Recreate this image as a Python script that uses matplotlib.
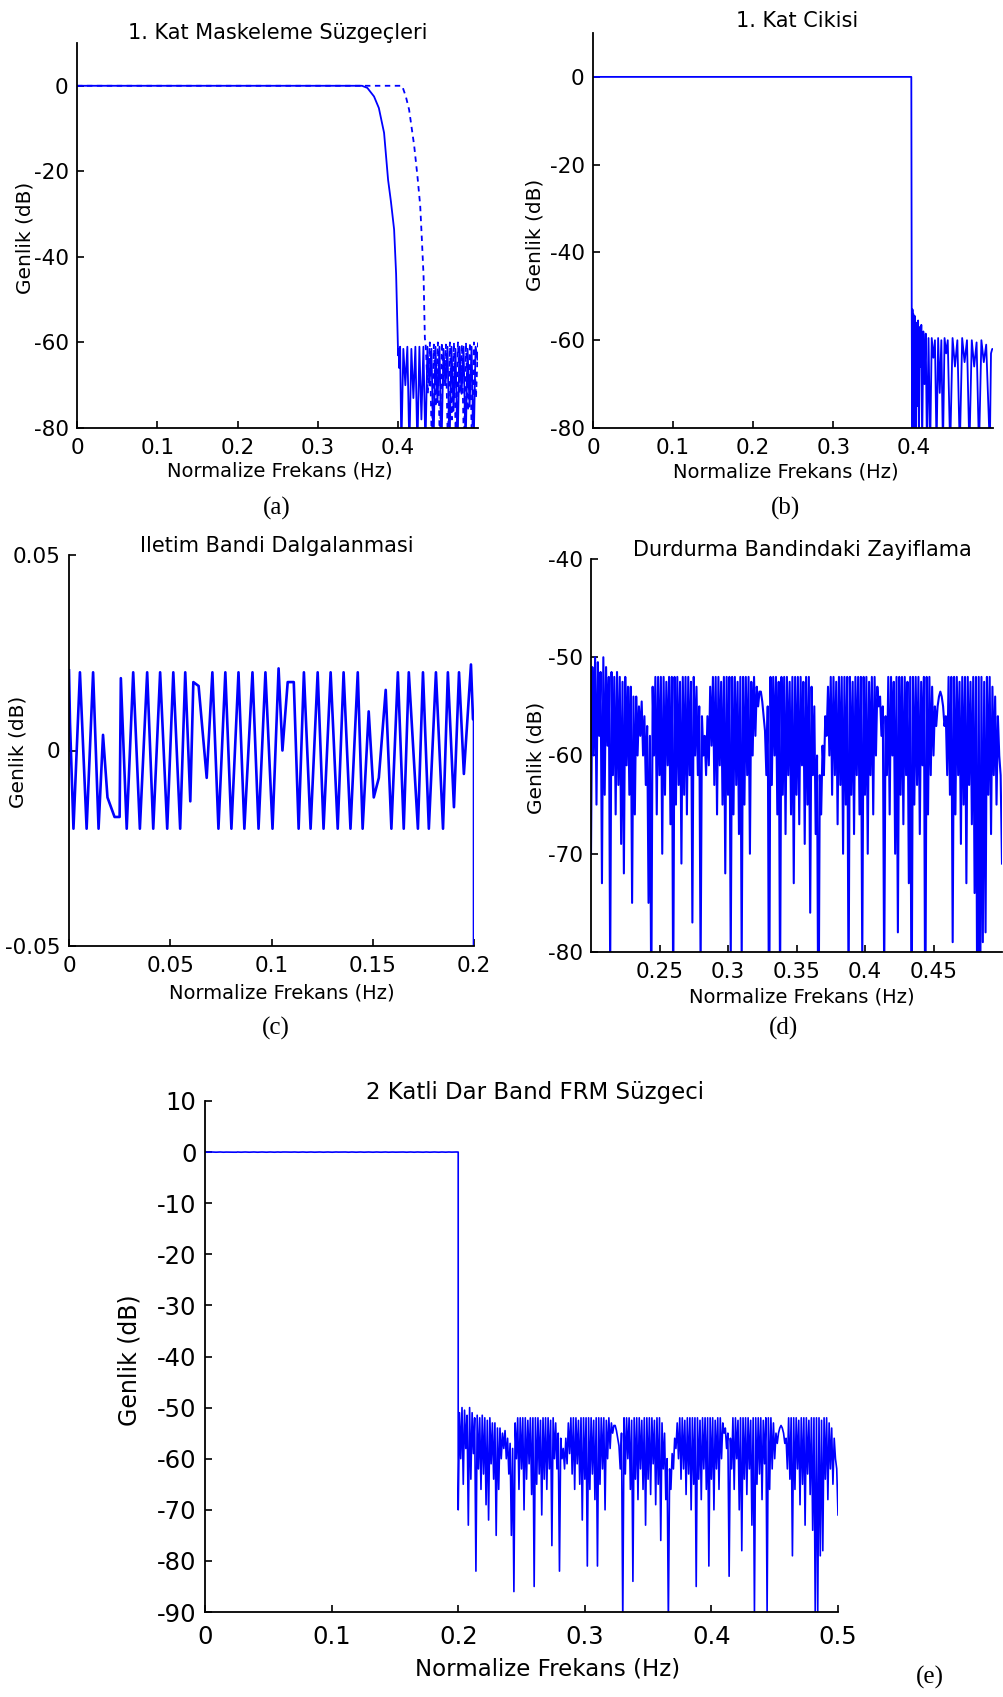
import numpy as np
import matplotlib
matplotlib.use("Agg")
import matplotlib.pyplot as plt

W, H = 1004, 1697
BLUE = "#0000ff"

# ---- panel (a): first stage masking filters ----
a_solid_f = [0, 0.355, 0.3617, 0.370, 0.376, 0.3825, 0.3875, 0.391, 0.395, 0.3975, 0.400,
             0.4005, 0.4015, 0.4025, 0.404, 0.4065, 0.409, 0.4115, 0.414, 0.4165, 0.419,
             0.4215, 0.424, 0.4265, 0.429, 0.4315, 0.434, 0.4365, 0.439, 0.4415, 0.444,
             0.4465, 0.449, 0.4515, 0.454, 0.4565, 0.459, 0.4615, 0.464, 0.4665, 0.469,
             0.4715, 0.474, 0.4765, 0.479, 0.4815, 0.484, 0.4865, 0.489, 0.4915, 0.494,
             0.4965, 0.499]
a_solid_db = [0, 0, -0.5, -2.5, -5.2, -11, -22, -27, -33.6, -44, -63,
              -61.5, -66, -61, -85, -61.5, -70, -61, -85, -61.5, -73,
              -61, -85, -61, -78, -61, -85, -61, -70, -61.5, -85,
              -61, -74, -61, -85, -61.5, -70, -61, -85, -61, -76,
              -61.5, -85, -61, -72, -61, -85, -61.5, -75, -61, -85,
              -61, -64]
a_dash_f = [0, 0.405, 0.4096, 0.4137, 0.420, 0.424, 0.4275, 0.4296, 0.4317, 0.4333,
            0.4345, 0.437, 0.4395, 0.442, 0.4445, 0.447, 0.4495, 0.452, 0.4545, 0.457,
            0.4595, 0.462, 0.4645, 0.467, 0.4695, 0.472, 0.4745, 0.477, 0.4795, 0.482,
            0.4845, 0.487, 0.4895, 0.492, 0.4945, 0.497, 0.4995]
a_dash_db = [0, 0, -2.5, -5.6, -14, -21, -28, -36, -44.5, -59,
             -61, -72, -60, -85, -60.5, -75, -60, -85, -60, -70,
             -60.5, -85, -60, -78, -60, -85, -60, -72, -60.5, -85,
             -60, -76, -60, -85, -60, -73, -60]

# ---- panel (b): first stage output ----
b_f = [0, 0.3975, 0.398, 0.3985, 0.399, 0.3995, 0.400, 0.4005, 0.401, 0.4015, 0.402,
       0.403, 0.404, 0.405, 0.406, 0.407, 0.408, 0.409, 0.410, 0.411, 0.4125,
       0.414, 0.4155, 0.417, 0.419, 0.421, 0.423, 0.425, 0.427, 0.429, 0.431,
       0.433, 0.435, 0.437, 0.439, 0.441, 0.443, 0.446, 0.449, 0.452, 0.455,
       0.458, 0.461, 0.464, 0.467, 0.470, 0.473, 0.476, 0.479, 0.482, 0.485,
       0.488, 0.491, 0.494, 0.4955, 0.497, 0.4985, 0.4995]
b_db = [0, 0, -52, -85, -53, -72, -54, -85, -55, -68, -54.5,
        -85, -56, -75, -55.5, -85, -57, -66, -56.5, -85, -58,
        -70, -58.5, -85, -59.5, -85, -59.5, -64, -60, -85, -59.5,
        -72, -60, -85, -59.5, -63, -60, -85, -59.5, -66, -60,
        -85, -59.5, -65, -60, -85, -60, -66, -60.5, -85, -60,
        -65, -61, -76.5, -85, -63, -62, -62]

# ---- panel (c): pass band ripple of the 2-stage filter ----
pass_f = [0.000, 0.0005, 0.0022, 0.0054, 0.0087, 0.0119, 0.0146, 0.0168, 0.0190, 0.0225,
          0.0250, 0.0256, 0.0285, 0.0317, 0.0350, 0.0386, 0.0416, 0.0450, 0.0485, 0.0515,
          0.0549, 0.0574, 0.0599, 0.0614, 0.0640, 0.0680, 0.0708, 0.0738, 0.0772, 0.0802,
          0.0837, 0.0866, 0.0906, 0.0936, 0.0970, 0.1005, 0.1035, 0.1054, 0.1080, 0.1110,
          0.1134, 0.1160, 0.1193, 0.1228, 0.1257, 0.1292, 0.1327, 0.1356, 0.1390, 0.1426,
          0.1450, 0.1480, 0.1505, 0.1530, 0.1564, 0.1592, 0.1624, 0.1653, 0.1678, 0.1723,
          0.1748, 0.1777, 0.1812, 0.1847, 0.1871, 0.1901, 0.1926, 0.1950, 0.1985, 0.1995,
          0.2000]
pass_db = [0.0205, 0.007, -0.020, 0.020, -0.020, 0.020, -0.020, 0.004, -0.012, -0.017,
           -0.017, 0.0185, -0.020, 0.020, -0.020, 0.020, -0.020, 0.020, -0.020, 0.020,
           -0.020, 0.020, -0.013, 0.0175, 0.0165, -0.007, 0.020, -0.020, 0.020, -0.020,
           0.020, -0.020, 0.020, -0.020, 0.020, -0.020, 0.021, 0.000, 0.0175, 0.0175,
           -0.020, 0.020, -0.020, 0.020, -0.020, 0.020, -0.020, 0.020, -0.020, 0.020,
           -0.020, 0.010, -0.012, -0.007, 0.0155, -0.020, 0.020, -0.020, 0.020, -0.020,
           0.020, -0.020, 0.020, -0.020, 0.020, -0.0145, 0.020, -0.006, 0.022, 0.008,
           0.008]

# ---- panels (d), (e): stop band of the 2-stage filter, 0.2 .. 0.5 step 0.001 ----
stop_db = [
    -70, -51, -60, -50, -65, -50.5, -58, -51.5, -73, -50,
    -64, -51, -59, -52, -82, -51.5, -62, -52, -66, -51.5,
    -63, -52, -69, -52.5, -72, -52, -61, -53, -64, -53,
    -75, -54, -66, -54, -60, -55, -58, -54.5, -60, -56,
    -63, -57, -75, -58, -86, -53, -60, -52, -66, -52,
    -62, -52, -70, -52, -64, -52.5, -61, -52, -67, -52,
    -85, -52, -65, -52, -63, -52.5, -71, -52, -64, -52,
    -66, -52, -62, -52.5, -77, -52, -60, -53, -62, -55,
    -82, -56, -60, -58, -62, -56, -61, -53, -59, -52,
    -63, -52, -66, -52, -61, -52.5, -65, -52, -72, -52,
    -64, -52, -81, -52, -66, -52, -63, -52.5, -68, -52,
    -81, -52, -65, -52, -62, -52, -70, -52.5, -60, -52,
    -58, -53, -55, -53.5, -53.5, -54.5, -56, -57.5, -62, -55,
    -92, -52, -63, -52, -60, -52, -66, -52.5, -84, -52,
    -64, -52, -68, -52, -62, -52.5, -66, -52, -73, -52,
    -64, -52, -67, -52, -61, -52.5, -69, -52, -65, -52,
    -76, -53, -62, -55, -68, -60, -92, -62, -66, -59,
    -62, -56, -58, -53, -60, -52, -64, -52, -62, -52.5,
    -67, -52, -63, -52, -70, -52, -65, -52, -85, -52,
    -64, -52.5, -68, -52, -62, -52, -66, -52, -81, -52,
    -64, -52, -70, -52.5, -62, -52, -66, -52, -60, -53,
    -55, -54, -58, -55, -83, -56, -62, -52, -66, -52,
    -60, -52.5, -70, -52, -78, -52, -64, -52, -67, -52,
    -62, -52.5, -73, -52, -90, -52, -65, -52, -63, -52,
    -68, -52.5, -61, -52, -90, -52, -66, -52, -62, -53,
    -60, -55, -57, -55, -54, -53.5, -54, -55, -57, -56,
    -62, -52, -64, -52, -79, -52, -66, -52, -62, -52.5,
    -69, -52, -65, -52, -73, -52, -63, -52.5, -67, -52,
    -74, -52, -90, -52, -90, -52, -79, -52.5, -78, -52,
    -64, -52, -68, -53, -62, -54, -65, -56, -60, -62,
    -71]
stop_f = np.round(np.linspace(0.2, 0.5, len(stop_db)), 4)

plt.rcParams['font.family'] = ['DejaVu Sans']


def rect(left, top, right, bottom):
    return [left / W, 1 - bottom / H, (right - left) / W, (bottom - top) / H]


def put(x, y, s, size, **kw):
    fig.text(x / W, 1 - y / H, s, fontsize=size, ha="center", va="center", **kw)


def style(ax, xt, xl, yt, yl, xlim, ylim, fs, xpad=7):
    ax.set_xlim(*xlim)
    ax.set_ylim(*ylim)
    ax.set_xticks(xt)
    ax.set_xticklabels(xl, fontsize=fs)
    ax.set_yticks(yt)
    ax.set_yticklabels(yl, fontsize=fs)
    for s in ["top", "right"]:
        ax.spines[s].set_visible(False)
    for s in ["left", "bottom"]:
        ax.spines[s].set_linewidth(1.3)
    ax.tick_params(direction="in", length=5, width=1.2, pad=6)
    ax.tick_params(axis="x", pad=xpad)
    ax.patch.set_alpha(0)


fig = plt.figure(figsize=(W / 100, H / 100), dpi=100)

FS = 15.5
TS = 15
LS = 14
YS = 14.5
serif = dict(family="Liberation Serif")

# (a)
ax = fig.add_axes(rect(77, 43, 478, 428))
ax.plot(a_solid_f, a_solid_db, color=BLUE, lw=1.3)
ax.plot(a_dash_f, a_dash_db, color=BLUE, lw=1.3, linestyle=(0, (3, 2.5)))
style(ax, [0, 0.1, 0.2, 0.3, 0.4], ["0", "0.1", "0.2", "0.3", "0.4"],
      [-80, -60, -40, -20, 0], ["-80", "-60", "-40", "-20", "0"], (0, 0.4995), (-80, 10), FS)
put(278, 33, "1. Kat Maskeleme Süzgeçleri", TS)
put(280, 471, "Normalize Frekans (Hz)", LS)
put(25, 238, "Genlik (dB)", YS, rotation=90)
put(277, 508, "(a)", 18, **serif)

# (b)
ax = fig.add_axes(rect(593, 33, 993, 428))
ax.plot(b_f, b_db, color=BLUE, lw=1.3)
style(ax, [0, 0.1, 0.2, 0.3, 0.4], ["0", "0.1", "0.2", "0.3", "0.4"],
      [-80, -60, -40, -20, 0], ["-80", "-60", "-40", "-20", "0"], (0, 0.4995), (-80, 10), FS)
put(797, 21, "1. Kat Cikisi", TS)
put(786, 472, "Normalize Frekans (Hz)", LS)
put(535, 235, "Genlik (dB)", YS, rotation=90)
put(786, 508, "(b)", 18, **serif)

# (c)
ax = fig.add_axes(rect(69, 555, 474, 946))
ax.plot(pass_f + [stop_f[0]], pass_db + [stop_db[0]], color=BLUE, lw=1.9)
style(ax, [0, 0.05, 0.1, 0.15, 0.2], ["0", "0.05", "0.1", "0.15", "0.2"],
      [-0.05, 0, 0.05], ["-0.05", "0", "0.05"], (0, 0.2), (-0.05, 0.05), FS)
put(277, 546, "Iletim Bandi Dalgalanmasi", TS)
put(282, 993, "Normalize Frekans (Hz)", LS)
put(18, 752, "Genlik (dB)", YS, rotation=90)
put(276, 1028, "(c)", 18, **serif)

# (d)
ax = fig.add_axes(rect(591, 559, 1002, 952))
ax.plot(stop_f, stop_db, color=BLUE, lw=1.5)
style(ax, [0.25, 0.3, 0.35, 0.4, 0.45], ["0.25", "0.3", "0.35", "0.4", "0.45"],
      [-80, -70, -60, -50, -40], ["-80", "-70", "-60", "-50", "-40"], (0.2, 0.5), (-80, -40), FS,
      xpad=7)
put(802, 550, "Durdurma Bandindaki Zayiflama", TS)
put(802, 997, "Normalize Frekans (Hz)", LS)
put(536, 758, "Genlik (dB)", YS, rotation=90)
put(784, 1028, "(d)", 18, **serif)

# (e)
ax = fig.add_axes(rect(205, 1101, 838, 1612))
ax.plot(pass_f + list(stop_f), pass_db + stop_db, color=BLUE, lw=1.2)
style(ax, [0, 0.1, 0.2, 0.3, 0.4, 0.5], ["0", "0.1", "0.2", "0.3", "0.4", "0.5"],
      list(range(-90, 11, 10)), [str(v) for v in range(-90, 11, 10)], (0, 0.5), (-90, 10), 17.5,
      xpad=9)
put(535, 1093, "2 Katli Dar Band FRM Süzgeci", 16.5)
put(548, 1669, "Normalize Frekans (Hz)", 16.5)
put(130, 1360, "Genlik (dB)", 17, rotation=90)
put(930, 1677, "(e)", 18, **serif)

fig.savefig("out.png", dpi=100)
